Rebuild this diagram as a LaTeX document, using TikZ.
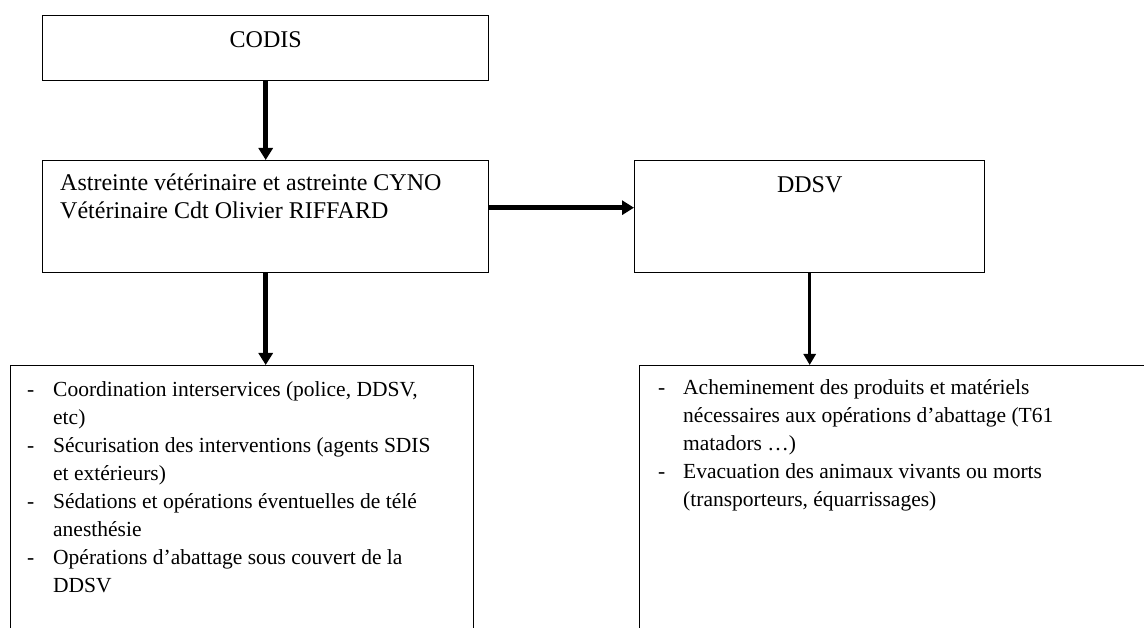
\documentclass[tikz,border=0pt]{standalone}
\usepackage{fontspec}
\setmainfont{Liberation Serif}
\usetikzlibrary{positioning,arrows.meta}
\tikzset{%
	box/.style      = {draw, line width=1.4pt, rectangle, inner sep=0pt,
		anchor=north west}, % cadre
	txt/.style      = {inner sep=0pt, font=\fontsize{24}{28}\selectfont}, % texte
	liste/.style    = {txt, anchor=north west, font=\fontsize{21.5}{28}\selectfont}, % texte des listes
	fleche/.style   = {-{Triangle[length=12pt,width=14pt]}, line width=4.5pt}, % gros trait
	flechefine/.style = {-{Triangle[length=11pt,width=12pt]}, line width=3pt}
}

\begin{document}
\begin{tikzpicture}[x=1pt,y=-1pt]
                \useasboundingbox (0,0) rectangle (1144,628);
                \clip (0,0) rectangle (1144,628);

                \node[box, minimum width=446pt, minimum height=65pt] (codis) at (42,15) {};
                \node[box, minimum width=446pt, minimum height=112pt] (astreinte) at (42,160) {};
                \node[box, minimum width=350pt, minimum height=112pt] (ddsv) at (634,160) {};
                \node[box, minimum width=463pt, minimum height=320pt] (missionsL) at (10,365) {};
                \node[box, minimum width=560pt, minimum height=320pt] (missionsR) at (639,365) {};

                \node[txt, below=16pt of codis.north] (codistxt) {CODIS};
                \node[txt, below=16pt of ddsv.north] (ddsvtxt) {DDSV};
                \node[txt, anchor=north west, below right=11pt and 18pt of astreinte.north west] (astreintetxt)
                    {\begin{tabular}{@{}l@{}}
                    Astreinte vétérinaire et astreinte CYNO\\
                    Vétérinaire Cdt Olivier RIFFARD
                    \end{tabular}};
                \node[liste, below right=12pt and 17pt of missionsL.north west] (listeL)
                    {\begin{tabular}{@{}p{26pt}@{}l@{}}
                    - & Coordination interservices (police, DDSV,\\
                      & etc)\\
                    - & Sécurisation des interventions (agents SDIS\\
                      & et extérieurs)\\
                    - & Sédations et opérations éventuelles de télé\\
                      & anesthésie\\
                    - & Opérations d’abattage sous couvert de la\\
                      & DDSV
                    \end{tabular}};
                \node[liste, below right=10pt and 19pt of missionsR.north west] (listeR)
                    {\begin{tabular}{@{}p{25pt}@{}l@{}}
                    - & Acheminement des produits et matériels\\
                      & nécessaires aux opérations d’abattage (T61\\
                      & matadors …)\\
                    - & Evacuation des animaux vivants ou morts\\
                      & (transporteurs, équarrissages)
                    \end{tabular}};

                \draw[fleche] (codis) -- (astreinte);
                \draw[fleche] ([yshift=9pt]astreinte.east) -- ([yshift=9pt]ddsv.west);
                \draw[fleche] (astreinte.south) -- (astreinte.south |- missionsL.north);
                \draw[flechefine] (ddsv.south) -- (ddsv.south |- missionsR.north);
            \end{tikzpicture}
\end{document}
